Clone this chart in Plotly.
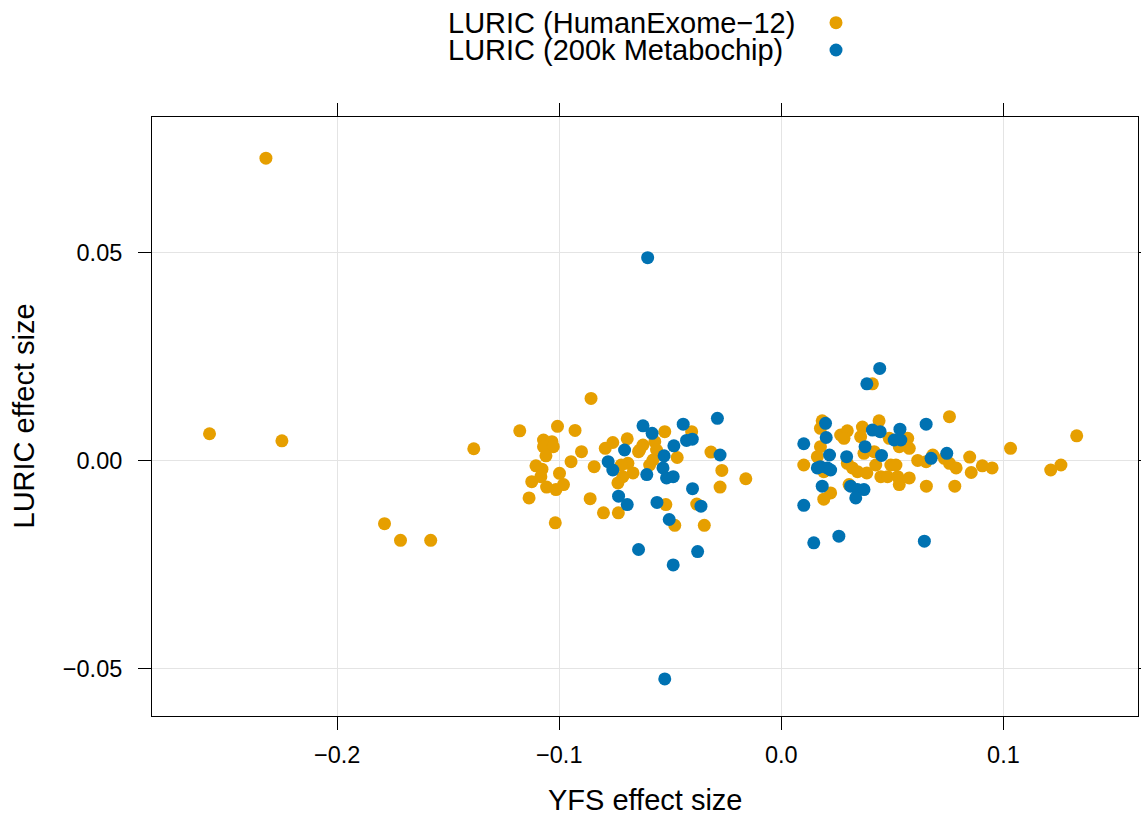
import plotly.graph_objects as go

# LURIC (HumanExome-12)
exome_x = [-0.2321, -0.2575, -0.2249, -0.1787, -0.1715, -0.1579, -0.1385,
           -0.0857, -0.1178, -0.1008, -0.0929, -0.1071, -0.1033, -0.1071, -0.1027, -0.1060,
           -0.0900, -0.0947, -0.1105, -0.1078, -0.0999, -0.1124, -0.1083, -0.1057, -0.1015,
           -0.0981, -0.1136, -0.1018, -0.0843, -0.0861, -0.0801, -0.0734,
           -0.0793, -0.0759, -0.0694, -0.0691, -0.0668, -0.0714, -0.0736, -0.0638, -0.0623,
           -0.0525, -0.0404, -0.0469, -0.0643, -0.0570, -0.0562, -0.0578, -0.0593, -0.0721,
           -0.0317, -0.0268, -0.0160, -0.0276, -0.0520, -0.0381, -0.0480, -0.0347,
           0.0410, 0.0757, 0.0184, 0.0176, 0.0267, 0.0297, 0.0282, 0.0365, 0.0440, 0.0357,
           0.0486, 0.0569, 0.0576, 0.0531, 0.0372, 0.0418, 0.0176, 0.0162, 0.0101, 0.0191,
           0.0297, 0.0320, 0.0343, 0.0385, 0.0425, 0.0493, 0.0516, 0.0614, 0.0652, 0.0682,
           0.0734, 0.0757, 0.0787, 0.0448, 0.0478, 0.0524, 0.0576, 0.0531, 0.0653, 0.0781,
           0.0305, 0.0222, 0.0191, 0.1032, 0.1330, 0.1259, 0.1213, 0.0848, 0.0855, 0.0905,
           0.0949]
exome_y = [0.0727, 0.0065, 0.0048, -0.0151, -0.0191, -0.0191, 0.0029,
           0.0150, 0.0072, 0.0083, 0.0073, 0.0050, 0.0046, 0.0034, 0.0034, 0.0012,
           0.0022, -0.0002, -0.0012, -0.0020, -0.0030, -0.0050, -0.0038, -0.0063, -0.0069,
           -0.0057, -0.0089, -0.0149, -0.0014, -0.0091, -0.0125, -0.0125,
           0.0030, 0.0044, 0.0053, -0.0006, -0.0029, -0.0038, -0.0053, 0.0026, 0.0038,
           0.0070, 0.0070, 0.0008, 0.0022, 0.0046, 0.0026, 0.0002, -0.0010, -0.0010,
           0.0021, -0.0023, -0.0043, -0.0063, -0.0105, -0.0104, -0.0155, -0.0155,
           0.0185, 0.0106, 0.0096, 0.0078, 0.0062, 0.0072, 0.0054, 0.0081, 0.0096, 0.0058,
           0.0054, 0.0054, 0.0030, 0.0034, 0.0018, 0.0022, 0.0034, 0.0010, -0.0010, -0.0026,
           -0.0006, -0.0017, -0.0026, -0.0029, -0.0010, -0.0010, -0.0010, 0.0001, -0.0002, 0.0014,
           0.0006, -0.0006, -0.0017, -0.0038, -0.0038, -0.0038, -0.0041, -0.0057, -0.0061, -0.0061,
           -0.0057, -0.0077, -0.0092, 0.0030, 0.0060, -0.0010, -0.0022, 0.0009, -0.0028, -0.0012,
           -0.0017]

# LURIC (200k Metabochip)
metabo_x = [-0.0602, -0.0525, -0.0706, -0.0623, -0.0780, -0.0759, -0.0733, -0.0694, -0.0643,
            -0.0606, -0.0288, -0.0582, -0.0442, -0.0427, -0.0401, -0.0484, -0.0528, -0.0276,
            -0.0533, -0.0517, -0.0487, -0.0400, -0.0560, -0.0362, -0.0505, -0.0377, -0.0487,
            0.0443, 0.0385, 0.0652, 0.0199, 0.0202, 0.0101, 0.0410, 0.0445, 0.0534, 0.0508,
            0.0538, 0.0377, 0.0217, 0.0294, 0.0451, 0.0176, 0.0207, 0.0222, 0.0162, 0.0674,
            0.0745, 0.0184, 0.0312, 0.0343, 0.0372, 0.0335, 0.0101, 0.0146, 0.0259, 0.0644]
metabo_y = [0.0488, -0.0524, 0.0026, 0.0084, -0.0002, -0.0022, -0.0085, -0.0105, -0.0213,
            -0.0033, 0.0102, 0.0066, 0.0088, 0.0049, 0.0052, 0.0036, 0.0012, 0.0014,
            -0.0017, -0.0041, -0.0038, -0.0067, -0.0100, -0.0109, -0.0141, -0.0218, -0.0250,
            0.0222, 0.0185, 0.0088, 0.0090, 0.0056, 0.0041, 0.0074, 0.0070, 0.0076, 0.0050,
            0.0050, 0.0034, 0.0014, 0.0010, 0.0013, -0.0014, -0.0017, -0.0022, -0.0017, 0.0006,
            0.0018, -0.0061, -0.0061, -0.0069, -0.0069, -0.0089, -0.0107, -0.0197, -0.0181, -0.0193]

series_names = ["LURIC (HumanExome\u221212)", "LURIC (200k Metabochip)"]
series_colors = ["#E69F00", "#0072B2"]

x_ticks = [-0.2, -0.1, 0.0, 0.1]
y_ticks = [-0.05, 0.0, 0.05]

FONT = "Liberation Sans, Arial, Helvetica, sans-serif"

fig = go.Figure()
fig.add_trace(go.Scatter(x=exome_x, y=exome_y, mode="markers", name=series_names[0],
                         marker=dict(color=series_colors[0], size=13, line=dict(width=0))))
fig.add_trace(go.Scatter(x=metabo_x, y=metabo_y, mode="markers", name=series_names[1],
                         marker=dict(color=series_colors[1], size=13, line=dict(width=0))))

L, T, W, H = 152, 117, 1141, 821
R, B = 3, 105
pw = W - L - R
ph = H - T - B

axis_common = dict(showline=True, linecolor="black", linewidth=1, mirror="ticks",
                   ticks="outside", ticklen=13, tickwidth=1, tickcolor="black",
                   showgrid=True, gridcolor="#e4e4e4", gridwidth=1, zeroline=False,
                   tickfont=dict(family=FONT, size=23.5, color="black"))

fig.update_xaxes(range=[-0.2834, 0.1606], tickvals=x_ticks, tickformat=".1f",
                 ticklabelstandoff=5, **axis_common)
fig.update_yaxes(range=[-0.0613, 0.0826], tickvals=y_ticks, tickformat=".2f",
                 ticklabelstandoff=11, **axis_common)

TITLE_SIZE = 29
annotations = [
    dict(text="YFS effect size", xref="paper", yref="paper", x=0.5, y=0,
         xanchor="center", yanchor="middle", yshift=-84, showarrow=False,
         font=dict(family=FONT, size=TITLE_SIZE, color="black")),
    dict(text="LURIC effect size", xref="paper", yref="paper", x=0, y=0.5,
         xanchor="center", yanchor="middle", xshift=-129, textangle=-90, showarrow=False,
         font=dict(family=FONT, size=TITLE_SIZE, color="black")),
]
shapes = []
leg_centers = [22.7, 50.0]
for name, color, cy in zip(series_names, series_colors, leg_centers):
    annotations.append(dict(text=name, xref="paper", yref="paper", x=0, y=1,
                            xanchor="left", yanchor="middle", xshift=448 - L - 2,
                            yshift=T - cy, showarrow=False,
                            font=dict(family=FONT, size=TITLE_SIZE, color="black")))
    px = (836 - L) / pw
    py = 1 + (T - cy) / ph
    shapes.append(dict(type="circle", xref="paper", yref="paper",
                       xsizemode="pixel", ysizemode="pixel", xanchor=px, yanchor=py,
                       x0=-6.5, x1=6.5, y0=-6.5, y1=6.5,
                       fillcolor=color, line=dict(width=0)))

fig.update_layout(width=W, height=H, margin=dict(l=L, r=R, t=T, b=B, autoexpand=False),
                  paper_bgcolor="white", plot_bgcolor="white", showlegend=False,
                  annotations=annotations, shapes=shapes,
                  font=dict(family=FONT, color="black"))

fig.write_html("out.html", config={"displayModeBar": False},
               post_script="document.body.style.margin='0px';document.body.style.overflow='hidden';")
